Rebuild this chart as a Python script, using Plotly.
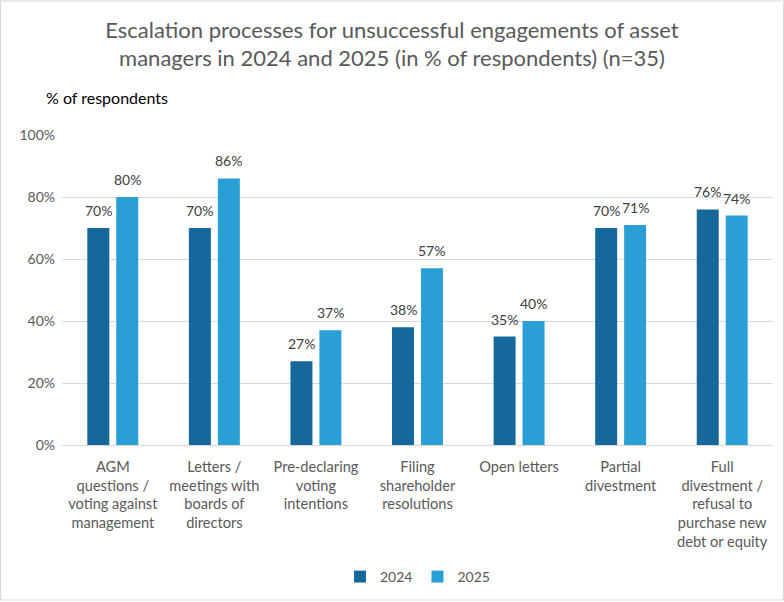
import plotly.graph_objects as go

categories = [
    "AGM<br>questions /<br>voting against<br>management",
    "Letters /<br>meetings with<br>boards of<br>directors",
    "Pre-declaring<br>voting<br>intentions",
    "Filing<br>shareholder<br>resolutions",
    "Open letters",
    "Partial<br>divestment",
    "Full<br>divestment /<br>refusal to<br>purchase new<br>debt or equity",
]
values_2024 = [70, 70, 27, 38, 35, 70, 76]
values_2025 = [80, 86, 37, 57, 40, 71, 74]
series_names = ["2024", "2025"]
tick_vals = [0, 20, 40, 60, 80, 100]
tick_text = ["0%", "20%", "40%", "60%", "80%", "100%"]

colors = ["#17689A", "#2A9FD6"]
FONT = "Lato, 'Open Sans', sans-serif"

W, H = 784, 602
ml, mr, mt, mb = 62, 11, 135, 156
pw, ph = W - ml - mr, H - mt - mb
bargap, bargroupgap = 0.43, 0.24
cat_px = pw / len(categories)
slot_px = cat_px * (1 - bargap) / 2

fig = go.Figure()
annotations = []
series = [values_2024, values_2025]
for i, (name, vals, col) in enumerate(zip(series_names, series, colors)):
    fig.add_trace(go.Bar(
        x=categories, y=vals, name=name,
        marker=dict(color=col, line=dict(width=0)),
        cliponaxis=False,
    ))
    shift = (i - 0.5) * slot_px
    for c, v in zip(categories, vals):
        annotations.append(dict(
            x=c, y=v, xref="x", yref="y", text=f"{v}%",
            showarrow=False, xanchor="center", yanchor="bottom",
            xshift=shift, yshift=7,
            font=dict(size=14, color="#404040", family=FONT),
        ))

annotations.append(dict(
    text="% of respondents", xref="paper", yref="paper",
    x=(44 - ml) / pw, y=(mt + ph - 97) / ph,
    xanchor="left", yanchor="middle", showarrow=False,
    font=dict(size=16, color="#000000", family=FONT),
))

fig.update_layout(
    width=W, height=H,
    margin=dict(l=ml, r=mr, t=mt, b=mb),
    paper_bgcolor="white", plot_bgcolor="white",
    font=dict(family=FONT, color="#595959"),
    barmode="group", bargap=bargap, bargroupgap=bargroupgap,
    title=dict(
        text="Escalation processes for unsuccessful engagements of asset<br>managers in 2024 and 2025 (in % of respondents) (n=35)",
        x=0.5, xanchor="center", xref="container",
        y=1 - 37.5 / H, yanchor="middle", yref="container",
        font=dict(size=22, color="#595959", family=FONT),
    ),
    showlegend=True,
    legend=dict(
        orientation="h", x=0.5, xanchor="center",
        y=-(577 - (mt + ph)) / ph, yanchor="middle",
        font=dict(size=14, color="#595959", family=FONT),
        itemwidth=30, traceorder="normal",
    ),
    xaxis=dict(
        showgrid=False, showline=True, linecolor="#D9D9D9", linewidth=1,
        ticks="", tickfont=dict(size=14.6, color="#595959", family=FONT),
        tickangle=0, ticklabelstandoff=8, automargin=False,
    ),
    yaxis=dict(
        range=[0, 100], tickvals=tick_vals, ticktext=tick_text,
        showgrid=True, gridcolor="#D9D9D9", gridwidth=1,
        zeroline=False, showline=False, ticks="",
        tickfont=dict(size=14, color="#595959", family=FONT),
        ticklabelstandoff=6, automargin=False,
    ),
    annotations=annotations,
    shapes=[dict(
        type="rect", xref="paper", yref="paper",
        x0=(0.5 - ml) / pw, x1=(W - 0.5 - ml) / pw,
        y0=-(mb - 0.5) / ph, y1=1 + (mt - 0.5) / ph,
        line=dict(color="#D9D9D9", width=1), fillcolor="rgba(0,0,0,0)",
        layer="below",
    )],
)

fig.write_html("out.html")
